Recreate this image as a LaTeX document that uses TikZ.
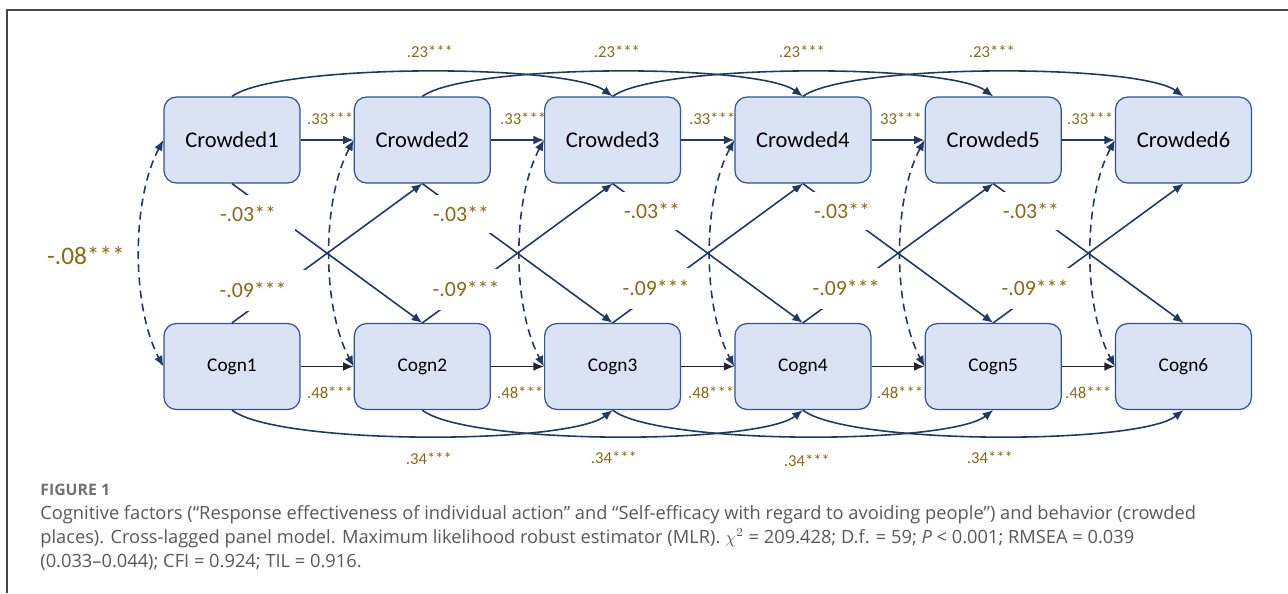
\documentclass[tikz,border=0pt]{standalone}
\usepackage{fontspec}
\setmainfont{Carlito}
\newfontfamily\capfont{Open Sans}
\usetikzlibrary{arrows.meta}
\definecolor{boxfill}{RGB}{218,227,243}
\definecolor{boxline}{RGB}{47,85,151}
\definecolor{pathc}{RGB}{31,56,100}
\definecolor{cognc}{RGB}{30,36,52}
\definecolor{coefc}{RGB}{139,105,20}
\definecolor{capc}{RGB}{88,88,88}
\definecolor{framec}{RGB}{70,70,70}
\tikzset{
  var/.style={draw=boxline, fill=boxfill, line width=0.7pt, rounded corners=7pt,
    minimum width=2.72cm, minimum height=1.72cm},
  reg/.style={draw=pathc, line width=0.9pt, -{Latex[length=6pt,width=5pt]}},
  cov/.style={draw=pathc, line width=0.9pt, dash pattern=on 4.5pt off 3pt,
    {Latex[length=6pt,width=5pt]}-{Latex[length=6pt,width=5pt]}},
  coef/.style={text=coefc, font=\fontsize{9.5}{11}\selectfont, inner sep=1pt},
  cross/.style={text=coefc, font=\fontsize{12.4}{14}\selectfont, fill=white,
    inner xsep=0.38cm, inner ysep=0pt},
  capline/.style={anchor=base west, inner sep=0pt, text=capc, font=\capfont\fontsize{10.4}{12}\selectfont}
}
\begin{document}
\begin{tikzpicture}[x=0.02cm, y=-0.02cm]
\useasboundingbox (0,0) rectangle (1288,593);
\draw[framec, line width=0.8pt] (1288,10) -- (7,10) -- (7,593);

% waves 1..6
\foreach \i in {1,...,6}{
  \node[var, font=\fontsize{12.8}{14}\selectfont] (c\i) at ({232+190.3*(\i-1)},140) {Crowded\i};
  \node[var, font=\fontsize{11}{13}\selectfont] (g\i) at ({232+190.3*(\i-1)},366.5) {Cogn\i};
}

% autoregressive and cross-lagged paths
\foreach \i/\j in {1/2,2/3,3/4,4/5,5/6}{
  \draw[reg] (c\i) -- (c\j);
  \draw[reg, draw=cognc] (g\i) -- (g\j);
  \draw[reg] (c\i.south) -- (g\j.north);
  \draw[reg] (g\i.north) -- (c\j.south);
}

% lag-2 paths
\foreach \i/\k in {1/3,2/4,3/5,4/6}{
  \draw[reg] (c\i.north) .. controls +(45,-33) and +(-45,-33) .. (c\k.north);
  \draw[reg] (g\i.south) .. controls +(45,35) and +(-45,35) .. (g\k.south);
}

% covariances
\foreach \i in {1,...,6}
  \draw[cov] (c\i.west) .. controls +(-32,60) and +(-32,-60) .. (g\i.west);

% coefficients
\foreach \x/\t in {305/.33***,498/.33***,687/.33***,878/33***,1065/.33***}
  \node[coef, anchor=west] at (\x,118.5) {\t};
\foreach \x in {305,495,686,875,1063}
  \node[coef, anchor=west] at (\x,392.5) {.48***};
\foreach \x in {430,617,802,992}
  \node[coef] at (\x,52) {.23***};
\foreach \x/\y in {429/459,614/458,807/461,990/458}
  \node[coef] at (\x,\y) {.34***};
\foreach \x/\y in {248/214,461/214,652/211,842/211,1031/211}
  \node[cross, minimum height=0.76cm] at (\x,\y) {-.03**};
\foreach \x/\y in {253/290,466/289,656/288,846/288,1035/288}
  \node[cross, minimum height=0.82cm] at (\x,\y) {-.09***};
\node[coef, font=\fontsize{14.4}{16}\selectfont] (cov1) at (86,256) {-.08***};

% caption
\node[capline, font=\capfont\bfseries\fontsize{9}{10}\selectfont, text=capc!85] (fig) at (40,495) {FIGURE 1};
\node[capline] (cap1) at (40,519) {Cognitive factors (“Response effectiveness of individual action” and “Self-efficacy with regard to avoiding people”) and behavior (crowded};
\node[capline] (cap2) at (40,543) {places). Cross-lagged panel model. Maximum likelihood robust estimator (MLR). $\chi^{2}$ = 209.428; D.f. = 59; \textit{P} < 0.001; RMSEA = 0.039};
\node[capline] (cap3) at (40,567) {(0.033–0.044); CFI = 0.924; TIL = 0.916.};
\end{tikzpicture}
\end{document}
